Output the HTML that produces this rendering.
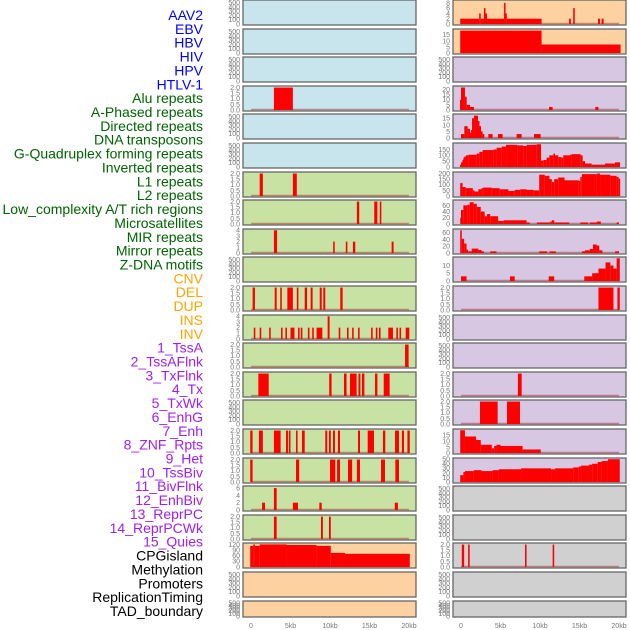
<!DOCTYPE html>
<html><head><meta charset="utf-8"><style>
html,body{margin:0;padding:0;background:#fff;width:630px;height:630px;overflow:hidden}
svg{display:block}
</style></head><body>
<svg id="chart" width="630" height="630" xmlns="http://www.w3.org/2000/svg" font-family="Liberation Sans, sans-serif"></svg>
<script>
// ---------- labels ----------
const trackLabels = ["AAV2","EBV","HBV","HIV","HPV","HTLV-1","Alu repeats","A-Phased repeats","Directed repeats","DNA transposons","G-Quadruplex forming repeats","Inverted repeats","L1 repeats","L2 repeats","Low_complexity A/T rich regions","Microsatellites","MIR repeats","Mirror repeats","Z-DNA motifs","CNV","DEL","DUP","INS","INV","1_TssA","2_TssAFlnk","3_TxFlnk","4_Tx","5_TxWk","6_EnhG","7_Enh","8_ZNF_Rpts","9_Het","10_TssBiv","11_BivFlnk","12_EnhBiv","13_ReprPC","14_ReprPCWk","15_Quies","CPGisland","Methylation","Promoters","ReplicationTiming","TAD_boundary"];
const labelGroups = [6,13,5,15,5]; // virus, repeats, SV, chromatin, other
const groupColors = ["#0000ff","#006400","#ffa500","#a020f0","#000000"];
const xTicks = [0,5,10,15,20];
const xTickLabels = ["0","5kb","10kb","15kb","20kb"];

// ---------- left column bar data (kb start, kb end, value) ----------
const L3_s=[2.9], L3_e=[5.3], L3_v=[2];
const L6_s=[1.1,5.3], L6_e=[1.5,5.8], L6_v=[2,2];
const L7_s=[13.4,15.6,16.3], L7_e=[13.7,16.0,16.5], L7_v=[2,2,2];
const L8_s=[2.9,10.4,12.0,12.9,17.8], L8_e=[3.3,10.6,12.2,13.2,18.05], L8_v=[4,2,2,2,2];
const L10_s=[0.2,3.0,3.7,4.6,5.8,6.8,7.55,8.7,9.15,11.3], L10_e=[0.5,3.25,3.9,5.3,6.0,7.1,7.8,8.95,9.4,11.6], L10_v=[2,2,2,2,2,2,2,2,2,2];
const L11_s=[0.35,1.1,2.3,3.8,4.35,5.0,5.95,6.3,7.2,7.75,8.3,9.7,11.1,12.15,12.8,13.55,15.2,15.8,16.2,17.38,18.4,18.8,19.58];
const L11_e=[0.55,1.3,2.5,4.0,4.55,5.5,6.15,6.5,7.4,7.95,9.03,9.95,11.3,12.35,13.0,13.75,15.4,16.0,16.4,17.97,18.6,19.0,20.04];
const L11_v=[2,2,2,2,2,2,2,2,2,2,2,4,2,2,2,2,2,2,2,2,2,2,2];
const L12_s=[19.5], L12_e=[19.95], L12_v=[2];
const L13_s=[0.93,9.9,11.77,12.53,13.6,14.05,15.7,16.8], L13_e=[2.24,10.2,12.1,13.37,13.85,14.35,16.0,17.55], L13_v=[2,2,2,2,2,2,2,2];
const L15_s=[-0.1,1.0,2.9,4.43,4.8,5.7,6.45,9.4,9.87,10.38,11.0,13.54,14.77,16.7,18.23,19.1,19.8];
const L15_e=[0.2,1.5,3.75,4.68,5.0,5.9,6.8,9.65,10.1,10.63,11.27,13.8,15.57,17.0,18.73,19.37,20.1];
const L15_v=[2,2,2,2,2,2,2,2,2,2,2,2,2,2,2,2,2];
const L16_s=[-0.1,5.7,10.0,10.9,12.28,13.4,16.46,18.27], L16_e=[0.2,6.1,10.67,11.27,12.8,13.8,16.96,18.73], L16_v=[2,2,2,2,2,2,2,2];
const L17_s=[1.4,2.9,5.3,8.65,18.2], L17_e=[1.77,3.25,5.95,8.95,18.6], L17_v=[2,6,2,2,2];
const L18_s=[2.9,8.86,9.87], L18_e=[3.25,9.1,10.1], L18_v=[2,2,2];
const L19_s=[-0.1,0.3,0.5,1.1,4.5,8.3,10.1,11.9], L19_e=[0.3,0.5,1.1,4.5,8.3,10.1,11.9,20.1], L19_v=[112,120,112,120,117,112,75,70];

// ---------- right column data ----------
const R0_s=[-0.1,2.3,2.5,2.9,3.1,3.25,5.45,5.6,5.8,13.67,14.2,17.35,17.8], R0_e=[2.3,2.5,2.9,3.1,3.25,5.45,5.6,5.8,10.2,13.9,14.4,17.6,18.05], R0_v=[2,4,2,6,4,2,8,4,2,2,6,2,2];
const R1_s=[-0.1,10.2], R1_e=[10.2,20.2], R1_v=[18.5,7];
const R3_s=[-0.13,0,0.5,0.72,1.14,11.14,17.0], R3_e=[0,0.5,0.72,1.14,1.65,11.6,17.4], R3_v=[10,22,13,5,3,3,3];
const R4_s=[0,0.42,0.84,1.14,1.27,1.39,1.65,2.15,2.32,2.53,2.74,3.46,4.68,7.04,9.24], R4_e=[0.42,0.84,1.14,1.27,1.39,1.65,2.15,2.32,2.53,2.74,2.95,4.0,5.27,7.68,10.08], R4_v=[3,9,7,4,6,15,17,13,9,5,3,3,3,3,3];
const R5_s=[-0.13,0,0.17,0.3,0.42,0.63,0.93,1.98,2.32,2.74,4.09,4.51,5.15,5.7,7.13,7.89,8.31,9.58,10.13,10.42,10.84,11.18,11.69,11.9,12.32,12.74,12.95,13.8,14.0,15.15,15.4,15.7,16.54,18.23,19.49];
const R5_v=[20,40,60,80,90,100,105,115,130,145,150,165,175,190,185,180,190,195,55,60,80,100,115,100,85,80,100,105,110,100,50,30,20,30,40];
const R5_end=20.13;
const R6_s=[-0.1,0.2,0.6,1.5,1.7,2.2,2.6,2.8,3.9,4.9,6.0,6.8,7.5,8.3,9.2,9.9,10.6,11.2,11.5,11.8,12.3,13.1,14.9,15.1,15.3,17.2,17.6,18.9,19.7,19.96];
const R6_v=[115,80,70,50,40,60,70,75,70,60,45,55,60,55,50,190,180,150,125,150,165,140,135,170,195,200,190,180,170,155];
const R6_end=20.1;
const R7_s=[-0.1,0,0.3,0.8,1.1,1.6,2.0,2.5,3.0,3.3,3.7,4.7,5.4,8.3,8.7,9.6,11.3,11.5,11.8,13.0,13.7,15.1,16.1,16.3,17.2,17.7,19.7,20.0];
const R7_v=[20,45,60,62,70,65,55,40,25,32,25,10,12,5,0,5,8,12,5,5,0,5,0,5,8,0,5,0];
const R7_end=20.1;
const R8_s=[-0.1,0.1,0.4,0.7,0.9,1.35,2.2,2.6,2.9,3.7,4.5,9.9,10.9,11.2,12.0,15.3,15.7,16.3,16.7,17.2,17.5,17.9,19.5,20.0];
const R8_v=[67,42,28,10,5,13,9,5,0,5,0,5,0,5,0,5,8,12,25,22,8,0,5,0];
const R8_end=20.1;
const R9_s=[0,0.7,6.2,6.8,11.1,11.8,15.6,16.6,17.4,18.3,18.9,19.3,19.7];
const R9_v=[3,0,3,0,3,0,3,5,8,12,10,8,14.6];
const R9_end=20.1;
const R10_s=[17.4,19.8], R10_e=[19.3,20.1], R10_v=[2,2];
const R13_s=[7.2], R13_e=[7.68], R13_v=[2];
const R14_s=[2.4,5.82], R14_e=[4.64,7.47], R14_v=[2,2];
const R15_s=[-0.1,0.5,1.9,2.5,3.9,4.2,4.5,5.0,7.8], R15_v=[19.3,14,11,7,4,6,7,6,3], R15_end=10.1;
const R16_s=[-0.1,0.3,0.5,1.6,2.6,4.0,4.8,7.6,11.4,11.9,14.2,14.9,15.2,16.2,16.6,17.3,17.8,18.6];
const R16_v=[15,22,24,26,24,26,28,30,28,30,32,34,36,38,40,44,46,50];
const R16_end=20.1;
const R19_s=[0.1,0.9,8.1,11.6], R19_e=[0.4,1.1,8.3,11.8], R19_v=[2,2,2,2];

// ---------- panel specs ----------
const BLUE="#c8e4ec", GREEN="#c8e2a4", ORANGE="#fed1a0", PURPLE="#d7c7e2", GRAY="#d0d0d0";
const T500={max:540,ticks:[0,100,200,300,400,500],lab:["0","100","200","300","400","500"]};
const T2={max:2.05,ticks:[0,0.5,1,1.5,2],lab:["0.0","0.5","1.0","1.5","2.0"]};
const T4={max:4.05,ticks:[0,1,2,3,4],lab:["0","1","2","3","4"]};
const T6={max:6.3,ticks:[0,2,4,6],lab:["0","2","4","6"]};
function steps(s,v,end){const e=s.slice(1);e.push(end);return {s:s,e:e,v:v};}
const leftPanels=[
 [BLUE,T500,null],[BLUE,T500,null],[BLUE,T500,null],[BLUE,T2,{s:L3_s,e:L3_e,v:L3_v}],[BLUE,T500,null],[BLUE,T500,null],
 [GREEN,T2,{s:L6_s,e:L6_e,v:L6_v}],[GREEN,T2,{s:L7_s,e:L7_e,v:L7_v}],[GREEN,T4,{s:L8_s,e:L8_e,v:L8_v}],[GREEN,T500,null],
 [GREEN,T2,{s:L10_s,e:L10_e,v:L10_v}],[GREEN,T4,{s:L11_s,e:L11_e,v:L11_v}],[GREEN,T2,{s:L12_s,e:L12_e,v:L12_v}],
 [GREEN,T2,{s:L13_s,e:L13_e,v:L13_v}],[GREEN,T500,null],[GREEN,T2,{s:L15_s,e:L15_e,v:L15_v}],[GREEN,T2,{s:L16_s,e:L16_e,v:L16_v}],
 [GREEN,T6,{s:L17_s,e:L17_e,v:L17_v}],[GREEN,T2,{s:L18_s,e:L18_e,v:L18_v}],
 [ORANGE,{max:122,ticks:[0,30,60,90,120],lab:["0","30","60","90","120"]},{s:L19_s,e:L19_e,v:L19_v}],
 [ORANGE,T500,null],[ORANGE,T500,null]
];
const rightPanels=[
 [ORANGE,{max:8.7,ticks:[0,2,4,6,8],lab:["0","2","4","6","8"]},{s:R0_s,e:R0_e,v:R0_v}],
 [ORANGE,{max:19,ticks:[0,5,10,15],lab:["0","5","10","15"]},{s:R1_s,e:R1_e,v:R1_v}],
 [PURPLE,T500,null],
 [PURPLE,{max:22.5,ticks:[0,5,10,15,20],lab:["0","5","10","15","20"]},{s:R3_s,e:R3_e,v:R3_v}],
 [PURPLE,{max:17.5,ticks:[0,5,10,15],lab:["0","5","10","15"]},{s:R4_s,e:R4_e,v:R4_v}],
 [PURPLE,{max:197,ticks:[0,50,100,150],lab:["0","50","100","150"]},steps(R5_s,R5_v,R5_end)],
 [PURPLE,{max:205,ticks:[0,50,100,150,200],lab:["0","50","100","150","200"]},steps(R6_s,R6_v,R6_end)],
 [PURPLE,{max:74,ticks:[0,20,40,60],lab:["0","20","40","60"]},steps(R7_s,R7_v,R7_end)],
 [PURPLE,{max:68,ticks:[0,20,40,60],lab:["0","20","40","60"]},steps(R8_s,R8_v,R8_end)],
 [PURPLE,{max:14.8,ticks:[0,5,10],lab:["0","5","10"]},steps(R9_s,R9_v,R9_end)],
 [PURPLE,T2,{s:R10_s,e:R10_e,v:R10_v}],[PURPLE,T500,null],[PURPLE,T500,null],
 [PURPLE,T2,{s:R13_s,e:R13_e,v:R13_v}],[PURPLE,T2,{s:R14_s,e:R14_e,v:R14_v}],
 [PURPLE,{max:19.5,ticks:[0,5,10,15],lab:["0","5","10","15"]},steps(R15_s,R15_v,R15_end)],
 [PURPLE,{max:50.5,ticks:[0,10,20,30,40,50],lab:["0","10","20","30","40","50"]},steps(R16_s,R16_v,R16_end)],
 [GRAY,T500,null],[GRAY,T500,null],[GRAY,T2,{s:R19_s,e:R19_e,v:R19_v}],[GRAY,T500,null],[GRAY,T500,null]
];

// ---------- drawing ----------
const NS="http://www.w3.org/2000/svg";
const svg=document.getElementById('chart');
function mk(tag,attrs,parent){const el=document.createElementNS(NS,tag);for(const k in attrs)el.setAttribute(k,attrs[k]);(parent||svg).appendChild(el);return el;}

let gi=0,cnt=0;
trackLabels.forEach((t,i)=>{
  while(cnt>=labelGroups[gi]){cnt=0;gi++;}
  cnt++;
  const el=mk('text',{x:203,y:15+i*13.86+5,'text-anchor':'end','font-size':14,fill:groupColors[gi]});
  el.textContent=t;
  
  
});

function rowTop(i){return Math.round(i*28.6);}
function drawCol(panels,px,side){
  const W=173;
  const x0=px+8, kbPx=7.9;
  const xs=kb=>x0+kb*kbPx;
  panels.forEach((p,i)=>{
    const top=rowTop(i), h=(i===21)?16:25;
    const g=mk('g',{});
    
    
    mk('rect',{x:px,y:top,width:W,height:h,fill:p[0],stroke:'#666',"stroke-width":1.3},g);
    const T=p[1];
    const yb=top+h-1, yt=top+1;
    const ys=v=>yb-(v/T.max)*(yb-yt);
    T.ticks.forEach((tv,k)=>{
      const tl=mk('text',{x:px-3,y:ys(tv)+2.4,'text-anchor':'end','font-size':7,fill:'#777'},g);
      tl.textContent=T.lab[k];
      
      
    });
    const d=p[2];
    if(d){
      mk('line',{x1:xs(0),x2:xs(20),y1:yb-0.5,y2:yb-0.5,stroke:'rgba(160,30,30,0.45)','stroke-width':1.6},g);
      d.s.forEach((s,k)=>{
        if(d.v[k]<=0)return;
        const x1=xs(s), x2=Math.max(xs(d.e[k]),x1+1.5);
        const r=mk('rect',{x:x1,y:ys(d.v[k]),width:x2-x1,height:yb-ys(d.v[k]),fill:'#ff0000'},g);
        
        
      });
    }
  });
  xTicks.forEach((kb,k)=>{
    const t=mk('text',{x:xs(kb),y:628,'text-anchor':'middle','font-size':7,fill:'#777'});
    t.textContent=xTickLabels[k];
    
    
  });
}
drawCol(leftPanels,243,'left');
drawCol(rightPanels,453,'right');
</script>
</body></html>
